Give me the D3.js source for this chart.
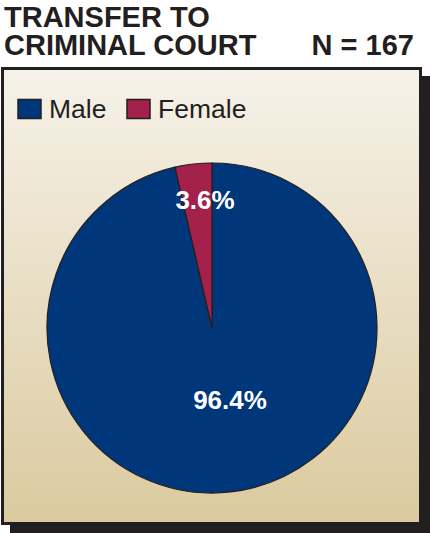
<!DOCTYPE html>
<html>
<head>
<meta charset="utf-8">
<script src="https://cdn.jsdelivr.net/npm/d3@7"></script>
<style>
body { margin: 0; background: #fff; }
svg { display: block; font-family: "Liberation Sans", Arial, sans-serif; }
</style>
</head>
<body>
<script>
let categories = ["Male", "Female"];
let values = [96.4, 3.6];
let labels = ["96.4%", "3.6%"];
let colors = ["#00367a", "#a4214c"];

let width = 430, height = 533;
let svg = d3.select("body").append("svg")
	.attr("width", width)
	.attr("height", height);

// background gradient
let defs = svg.append("defs");
let grad = defs.append("linearGradient")
	.attr("id", "bg")
	.attr("x1", 0).attr("y1", 0).attr("x2", 0).attr("y2", 1);
grad.append("stop").attr("offset", "0%").attr("stop-color", "#f6f2e9");
grad.append("stop").attr("offset", "100%").attr("stop-color", "#dbca9f");

// shadow then box
svg.append("rect")
	.attr("x", 10).attr("y", 76)
	.attr("width", 420).attr("height", 457)
	.attr("fill", "#231f20");
svg.append("rect")
	.attr("x", 2.5).attr("y", 68.5)
	.attr("width", 418).attr("height", 455)
	.attr("fill", "url(#bg)")
	.attr("stroke", "#231f20")
	.attr("stroke-width", 3);

// title
let title = svg.append("g")
	.attr("font-size", 29).attr("font-weight", "bold").attr("fill", "#231f20");
title.append("text").attr("x", 4).attr("y", 27).text("TRANSFER TO");
title.append("text").attr("x", 4).attr("y", 55).text("CRIMINAL COURT");
title.append("text").attr("x", 414).attr("y", 55)
	.attr("text-anchor", "end")
	.text("N = 167");

// legend
let legendX = [18, 127];
categories.forEach((c, i) => {
	svg.append("rect")
		.attr("x", legendX[i]).attr("y", 99.5)
		.attr("width", 23).attr("height", 19)
		.attr("fill", colors[i])
		.attr("stroke", "#231f20").attr("stroke-width", 1.5);
	svg.append("text")
		.attr("x", legendX[i] + 31).attr("y", 118)
		.attr("font-size", 26.5).attr("fill", "#231f20")
		.text(c);
});

// pie
let cx = 212, cy = 328, r = 165;
let pie = d3.pie().sort(null).value(d => d)
	.startAngle(0).endAngle(2 * Math.PI);
let arc = d3.arc().innerRadius(0).outerRadius(r);
let arcs = pie(values);

let g = svg.append("g").attr("transform", `translate(${cx},${cy})`);
g.selectAll("path")
	.data(arcs)
	.enter()
	.append("path")
	.attr("d", arc)
	.attr("fill", (d, i) => colors[i])
	.attr("stroke", "#231f20")
	.attr("stroke-width", 1.2);

// slice labels
let labelPos = [[18, 81], [-7, -119]];
labels.forEach((t, i) => {
	g.append("text")
		.attr("x", labelPos[i][0]).attr("y", labelPos[i][1])
		.attr("text-anchor", "middle")
		.attr("font-size", 26).attr("font-weight", "bold")
		.attr("fill", "#fff")
		.text(t);
});
</script>
</body>
</html>
